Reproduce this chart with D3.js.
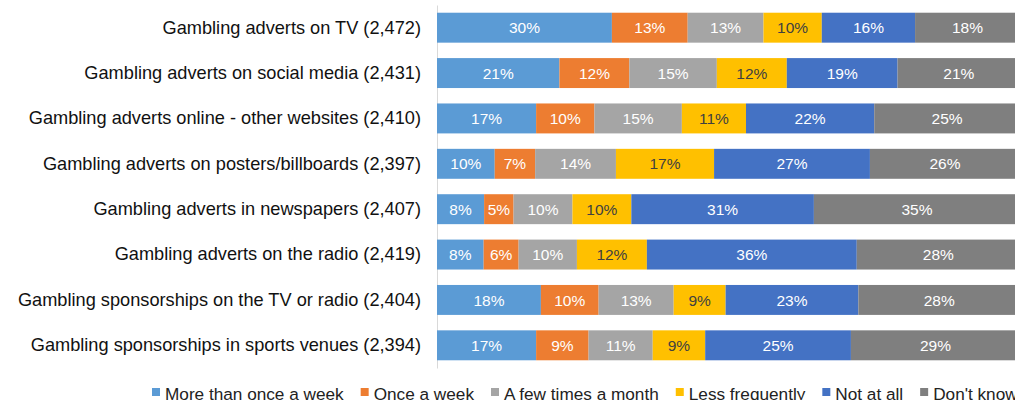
<!DOCTYPE html>
<html>
<head>
<meta charset="utf-8">
<script src="https://cdn.jsdelivr.net/npm/d3@7"></script>
<style>
  body { margin: 0; background: #fff; }
  svg { display: block; font-family: "Liberation Sans", Arial, sans-serif; }
</style>
</head>
<body>
<div id="chart"></div>
<script>
const WIDTH = 1015
const HEIGHT = 400
const MARGIN = {TOP: 5, LEFT: 437}

const categories = [
    'Gambling adverts on TV (2,472)',
    'Gambling adverts on social media (2,431)',
    'Gambling adverts online - other websites (2,410)',
    'Gambling adverts on posters/billboards (2,397)',
    'Gambling adverts in newspapers (2,407)',
    'Gambling adverts on the radio (2,419)',
    'Gambling sponsorships on the TV or radio (2,404)',
    'Gambling sponsorships in sports venues (2,394)'
]
const seriesNames = ['More than once a week', 'Once a week', 'A few times a month', 'Less frequently', 'Not at all', "Don't know"]
const moreThanOnce = [30, 21, 17, 10, 8, 8, 18, 17]
const onceAWeek = [13, 12, 10, 7, 5, 6, 10, 9]
const fewTimesMonth = [13, 15, 15, 14, 10, 10, 13, 11]
const lessFrequently = [10, 12, 11, 17, 10, 12, 9, 9]
const notAtAll = [16, 19, 22, 27, 31, 36, 23, 25]
const dontKnow = [18, 21, 25, 26, 35, 28, 28, 29]
const colors = ['#5B9BD5', '#ED7D31', '#A5A5A5', '#FFC000', '#4472C4', '#7F7F7F']
const labelColors = ['#fff', '#fff', '#fff', '#404040', '#fff', '#fff']

const series = [moreThanOnce, onceAWeek, fewTimesMonth, lessFrequently, notAtAll, dontKnow]

// 100% stacked: normalise every row by its total
const rows = categories.map((c, i) => {
    const vals = series.map(s => s[i])
    const total = d3.sum(vals)
    let acc = 0
    return vals.map((v, k) => {
        const seg = {cat: c, k: k, v: v, x0: acc / total, x1: (acc + v) / total}
        acc += v
        return seg
    })
})

const svg = d3.select('#chart')
    .append('svg')
    .attr('width', WIDTH)
    .attr('height', HEIGHT)

const g = svg.append('g')
    .attr('transform', `translate(${MARGIN.LEFT}, ${MARGIN.TOP})`)

const x = d3.scaleLinear().domain([0, 1]).range([0, 583])
const y = d3.scaleBand()
    .domain(categories)
    .range([0, 363])
    .paddingInner(0.34)
    .paddingOuter(0.17)

// category axis
const yAxis = g.append('g')
    .call(d3.axisLeft(y).tickSize(0).tickPadding(16))
yAxis.select('.domain').attr('stroke', '#d9d9d9')
yAxis.selectAll('text')
    .attr('fill', '#111')
    .style('font-size', '18.2px')
    .style('font-family', '"Liberation Sans", Arial, sans-serif')

const rowG = g.selectAll('.row')
    .data(rows)
    .enter().append('g')
    .attr('class', 'row')
    .attr('transform', d => `translate(0, ${y(d[0].cat)})`)

rowG.selectAll('rect')
    .data(d => d)
    .enter().append('rect')
    .attr('x', d => x(d.x0))
    .attr('y', 0)
    .attr('width', d => x(d.x1) - x(d.x0))
    .attr('height', y.bandwidth())
    .attr('fill', d => colors[d.k])

rowG.selectAll('text')
    .data(d => d)
    .enter().append('text')
    .attr('x', d => (x(d.x0) + x(d.x1)) / 2)
    .attr('y', y.bandwidth() / 2)
    .attr('dy', '0.36em')
    .attr('text-anchor', 'middle')
    .attr('fill', d => labelColors[d.k])
    .style('font-size', '15.5px')
    .text(d => d.v + '%')

// legend
const legend = svg.append('g')
    .attr('transform', 'translate(152, 0)')
let lx = 0
seriesNames.forEach((name, k) => {
    const item = legend.append('g').attr('transform', `translate(${lx}, 0)`)
    item.append('rect')
        .attr('x', 0)
        .attr('y', 388)
        .attr('width', 8)
        .attr('height', 8)
        .attr('fill', colors[k])
    const t = item.append('text')
        .attr('x', 13)
        .attr('y', 399.5)
        .attr('fill', '#222')
        .style('font-size', '17.2px')
        .text(name)
    lx += 13 + t.node().getComputedTextLength() + 17
})
</script>
</body>
</html>
